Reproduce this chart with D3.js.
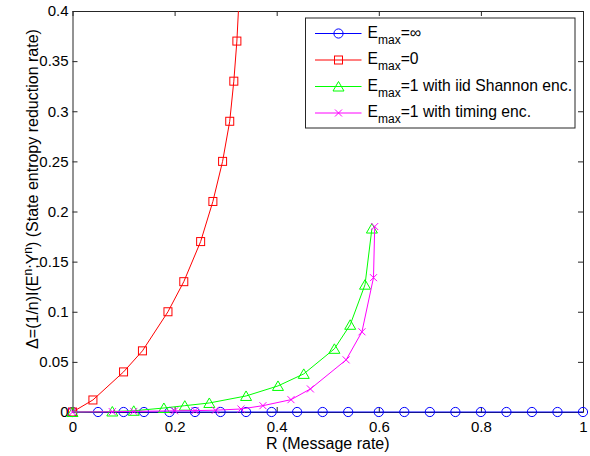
<!DOCTYPE html>
<html>
<head>
<meta charset="utf-8">
<script src="https://cdn.jsdelivr.net/npm/d3@7"></script>
<style>
  body { margin: 0; background: #fff; }
  text { font-family: "Liberation Sans", Arial, sans-serif; }
</style>
</head>
<body>
<div id="chart"></div>
<script>
// data
const rInf = [0, 0.05, 0.1, 0.14, 0.19, 0.24, 0.29, 0.34, 0.39, 0.44, 0.49, 0.54, 0.6, 0.65, 0.7, 0.75, 0.8, 0.85, 0.9, 0.95, 1];
const dInf = [0, 0, 0, 0, 0, 0, 0, 0, 0, 0, 0, 0, 0, 0, 0, 0, 0, 0, 0, 0, 0];

const rZero = [0, 0.04, 0.1, 0.137, 0.187, 0.218, 0.251, 0.275, 0.294, 0.308, 0.316, 0.322, 0.328];
const dZero = [0, 0.012, 0.04, 0.061, 0.1, 0.13, 0.17, 0.21, 0.25, 0.29, 0.33, 0.37, 0.43];

const rIid = [0, 0.078, 0.12, 0.179, 0.22, 0.268, 0.34, 0.4025, 0.453, 0.513, 0.544, 0.573, 0.5865];
const dIid = [0, 0.0005, 0.0012, 0.004, 0.0063, 0.009, 0.016, 0.026, 0.038, 0.063, 0.087, 0.127, 0.183];

const rTim = [0, 0.078, 0.12, 0.2, 0.24, 0.28, 0.33, 0.373, 0.428, 0.466, 0.536, 0.567, 0.5896, 0.592];
const dTim = [0, 0.0003, 0.0006, 0.0012, 0.0014, 0.0018, 0.003, 0.0063, 0.0123, 0.023, 0.052, 0.08, 0.134, 0.185];

const xTicks = [0, 0.2, 0.4, 0.6, 0.8, 1];
const yTicks = [0, 0.05, 0.1, 0.15, 0.2, 0.25, 0.3, 0.35, 0.4];

const svgWidth = 590;
const svgHeight = 456;
const margin = {top: 11, right: 7, bottom: 44, left: 72.5};
const width = svgWidth - margin.left - margin.right;
const height = svgHeight - margin.top - margin.bottom;

let svg = d3.select("#chart")
  .append("svg")
  .attr("width", svgWidth)
  .attr("height", svgHeight)
  .append("g")
  .attr("transform", "translate(" + margin.left + "," + margin.top + ")");

var xScale = d3.scaleLinear().domain([0, 1]).range([0, width]);
var yScale = d3.scaleLinear().domain([0, 0.4]).range([height, 0]);

// axes, matlab style: ticks inside, box all around
var axCol = "#262626";
svg.append("g")
  .attr("transform", "translate(0," + height + ")")
  .call(d3.axisBottom(xScale).tickValues(xTicks).tickSizeInner(-5).tickSizeOuter(0).tickPadding(9)
    .tickFormat(function(d) { return d3.format("")(d); }))
  .call(function(g) {
    g.select(".domain").attr("stroke", axCol);
    g.selectAll(".tick line").attr("stroke", axCol);
    g.selectAll("text").attr("font-size", 15).attr("fill", "#000").attr("font-family", "Liberation Sans, Arial, sans-serif");
  });
svg.append("g")
  .call(d3.axisLeft(yScale).tickValues(yTicks).tickSizeInner(-5).tickSizeOuter(0).tickPadding(4)
    .tickFormat(function(d) { return d3.format("")(d); }))
  .call(function(g) {
    g.select(".domain").attr("stroke", axCol);
    g.selectAll(".tick line").attr("stroke", axCol);
    g.selectAll("text").attr("font-size", 15).attr("fill", "#000").attr("font-family", "Liberation Sans, Arial, sans-serif");
  });
svg.append("g")
  .call(d3.axisTop(xScale).tickValues(xTicks).tickSizeInner(-5).tickSizeOuter(0).tickFormat(""))
  .call(function(g) { g.select(".domain").attr("stroke", axCol); g.selectAll(".tick line").attr("stroke", axCol); });
svg.append("g")
  .attr("transform", "translate(" + width + ",0)")
  .call(d3.axisRight(yScale).tickValues(yTicks).tickSizeInner(-5).tickSizeOuter(0).tickFormat(""))
  .call(function(g) { g.select(".domain").attr("stroke", axCol); g.selectAll(".tick line").attr("stroke", axCol); });

// axis labels
svg.append("text")
  .attr("x", width / 2)
  .attr("y", height + 37)
  .attr("text-anchor", "middle")
  .attr("font-size", 16)
  .text("R (Message rate)");

var yl = svg.append("text")
  .attr("transform", "translate(" + (-35) + "," + 178 + ") rotate(-90)")
  .attr("text-anchor", "middle")
  .attr("font-size", 16);
yl.append("tspan").text("Δ=(1/n)I(E");
yl.append("tspan").attr("dy", -6).attr("font-size", 12).text("n");
yl.append("tspan").attr("dy", 6).text(";Y");
yl.append("tspan").attr("dy", -6).attr("font-size", 12).text("n");
yl.append("tspan").attr("dy", 6).text(") (State entropy reduction rate)");

// clip
svg.append("defs").append("clipPath").attr("id", "clip")
  .append("rect").attr("x", -6).attr("y", 0).attr("width", width + 12).attr("height", height + 6);

var plot = svg.append("g").attr("clip-path", "url(#clip)");

var series = [
  {r: rInf, d: dInf, color: "#0000ff", marker: "circle", label: "=∞"},
  {r: rZero, d: dZero, color: "#ff0000", marker: "square", label: "=0"},
  {r: rIid, d: dIid, color: "#00ff00", marker: "triangle", label: "=1 with iid Shannon enc."},
  {r: rTim, d: dTim, color: "#ff00ff", marker: "cross", label: "=1 with timing enc."}
];

function drawMarker(g, type, color, x, y) {
  if (type == "circle") {
    g.append("circle").attr("cx", x).attr("cy", y).attr("r", 4.6)
      .attr("fill", "none").attr("stroke", color).attr("stroke-width", 1);
  } else if (type == "square") {
    g.append("rect").attr("x", x - 4).attr("y", y - 4).attr("width", 8).attr("height", 8)
      .attr("fill", "none").attr("stroke", color).attr("stroke-width", 1);
  } else if (type == "triangle") {
    g.append("path").attr("d", "M" + x + "," + (y - 5) + "L" + (x + 5.5) + "," + (y + 4.5) + "L" + (x - 5.5) + "," + (y + 4.5) + "Z")
      .attr("fill", "none").attr("stroke", color).attr("stroke-width", 1);
  } else {
    g.append("path").attr("d", "M" + (x - 3.5) + "," + (y - 3.5) + "L" + (x + 3.5) + "," + (y + 3.5) +
      "M" + (x + 3.5) + "," + (y - 3.5) + "L" + (x - 3.5) + "," + (y + 3.5))
      .attr("fill", "none").attr("stroke", color).attr("stroke-width", 1);
  }
}

series.forEach(function(s) {
  var pts = s.r.map(function(r, i) { return [r, s.d[i]]; });
  plot.append("path")
    .datum(pts)
    .attr("fill", "none")
    .attr("stroke", s.color)
    .attr("stroke-width", 1)
    .attr("d", d3.line()
      .x(function(d) { return xScale(d[0]); })
      .y(function(d) { return yScale(d[1]); }));
  var mg = plot.append("g");
  pts.forEach(function(p) {
    if (p[1] <= 0.4) drawMarker(mg, s.marker, s.color, xScale(p[0]), yScale(p[1]));
  });
});

// legend
var lx = 305.5 - margin.left, ly = 18 - margin.top;
var legend = svg.append("g");
legend.append("rect")
  .attr("x", lx).attr("y", ly).attr("width", 269.5).attr("height", 110)
  .attr("fill", "#fff").attr("stroke", axCol).attr("stroke-width", 1);
series.forEach(function(s, i) {
  var yy = ly + 15.5 + i * 26.5;
  legend.append("line")
    .attr("x1", lx + 9.5).attr("x2", lx + 56).attr("y1", yy).attr("y2", yy)
    .attr("stroke", s.color).attr("stroke-width", 1);
  drawMarker(legend, s.marker, s.color, lx + 33, yy);
  var t = legend.append("text")
    .attr("x", lx + 62).attr("y", yy + 4)
    .attr("font-size", 15.7);
  t.append("tspan").text("E");
  t.append("tspan").attr("dy", 6).attr("font-size", 12).text("max");
  t.append("tspan").attr("dy", -6).text(s.label);
});
</script>
</body>
</html>
